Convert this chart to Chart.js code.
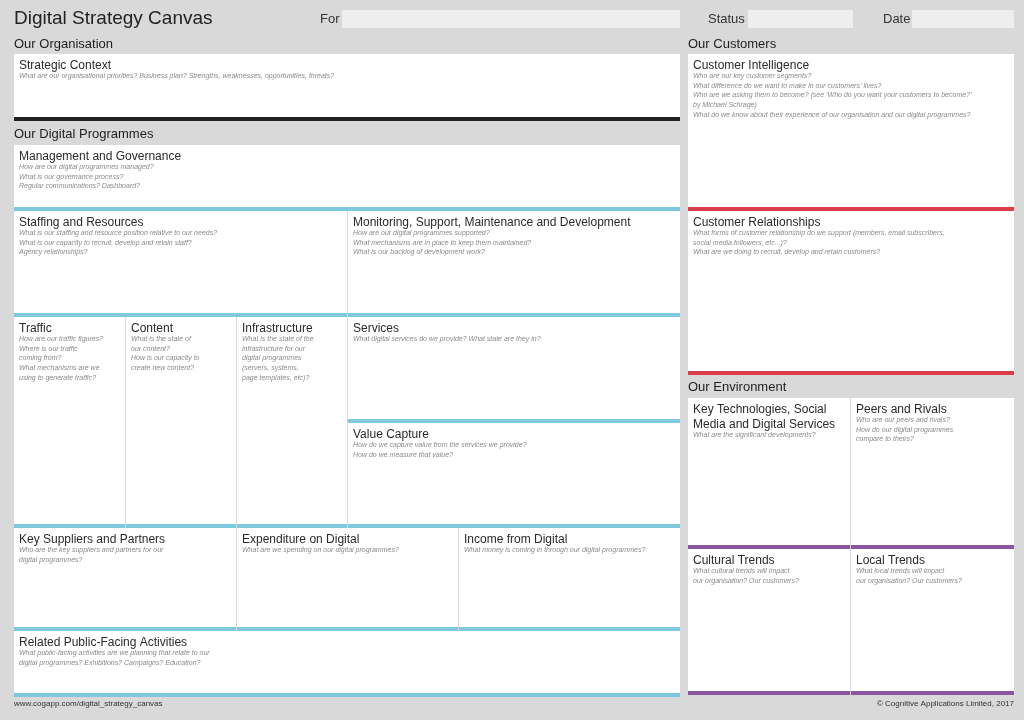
<!DOCTYPE html>
<html>
<head>
<meta charset="utf-8">
<script src="https://cdn.jsdelivr.net/npm/chart.js@4"></script>
<style>
  html, body { margin: 0; padding: 0; background: #d9d9d9; }
  #wrap { width: 1024px; height: 720px; }
</style>
</head>
<body>
<div id="wrap"><canvas id="canvasChart"></canvas></div>
<script>
// cell boxes in page units (x0, x1, y0, y1), accent bar under each
const cellTitles = ['Strategic Context', 'Management and Governance', 'Staffing and Resources',
  'Monitoring, Support, Maintenance and Development', 'Traffic', 'Content', 'Infrastructure',
  'Services', 'Value Capture', 'Key Suppliers and Partners', 'Expenditure on Digital',
  'Income from Digital', 'Related Public-Facing Activities', 'Customer Intelligence',
  'Customer Relationships', 'Key Technologies, Social\nMedia and Digital Services', 'Peers and Rivals',
  'Cultural Trends', 'Local Trends'];
const cellX0 = [14, 14, 14, 348, 14, 126, 237, 348, 348, 14, 237, 459, 14, 688, 688, 688, 851, 688, 851];
const cellX1 = [680, 680, 347, 680, 125, 236, 347, 680, 680, 236, 458, 680, 680, 1014, 1014, 850, 1014, 850, 1014];
const cellY0 = [54, 145, 211, 211, 317, 317, 317, 317, 423, 528, 528, 528, 631, 54, 211, 398, 398, 549, 549];
const cellY1 = [117, 207, 313, 313, 524, 524, 524, 419, 524, 627, 627, 627, 693, 207, 371, 545, 545, 691, 691];
const cellAccent = ['dark', 'blue', 'blue', 'blue', 'blue', 'blue', 'blue', 'blue', 'blue', 'blue', 'blue',
  'blue', 'blue', 'red', 'red', 'purple', 'purple', 'purple', 'purple'];
const cellQuestions = [
  ['What are our organisational priorities? Business plan? Strengths, weaknesses, opportunities, threats?'],
  ['How are our digital programmes managed?', 'What is our governance process?', 'Regular communications? Dashboard?'],
  ['What is our staffing and resource position relative to our needs?', 'What is our capacity to recruit, develop and retain staff?', 'Agency relationships?'],
  ['How are our digital programmes supported?', 'What mechanisms are in place to keep them maintained?', 'What is our backlog of development work?'],
  ['How are our traffic figures?', 'Where is our traffic', 'coming from?', 'What mechanisms are we', 'using to generate traffic?'],
  ['What is the state of', 'our content?', 'How is our capacity to', 'create new content?'],
  ['What is the state of the', 'infrastructure for our', 'digital programmes', '(servers, systems,', 'page templates, etc)?'],
  ['What digital services do we provide? What state are they in?'],
  ['How do we capture value from the services we provide?', 'How do we measure that value?'],
  ['Who are the key suppliers and partners for our', 'digital programmes?'],
  ['What are we spending on our digital programmes?'],
  ['What money is coming in through our digital programmes?'],
  ['What public-facing activities are we planning that relate to our', 'digital programmes? Exhibitions? Campaigns? Education?'],
  ['Who are our key customer segments?', 'What difference do we want to make in our customers\u2019 lives?',
   'Who are we asking them to become? (see \u2018Who do you want your customers to become?\u2019', 'by Michael Schrage)',
   'What do we know about their experience of our organisation and our digital programmes?'],
  ['What forms of customer relationship do we support (members, email subscribers,', 'social media followers, etc...)?', 'What are we doing to recruit, develop and retain customers?'],
  ['What are the significant developments?'],
  ['Who are our peers and rivals?', 'How do our digital programmes', 'compare to theirs?'],
  ['What cultural trends will impact', 'our organisation? Our customers?'],
  ['What local trends will impact', 'our organisation? Our customers?']
];

const sectionLabels = ['Our Organisation', 'Our Digital Programmes', 'Our Customers', 'Our Environment'];
const sectionX = [14, 14, 688, 688];
const sectionY = [44, 134, 44, 387];

const fieldLabels = ['For', 'Status', 'Date'];
const fieldLabelX = [320, 708, 883];
const fieldBoxX0 = [342, 748, 912];
const fieldBoxX1 = [680, 853, 1014];

const accentColors = { dark: '#222222', blue: '#7ec9de', red: '#dc3d4b', purple: '#8b55a0' };
const FONT = '"Liberation Sans", Arial, sans-serif';

const canvasPlugin = {
    id: 'canvasCells',
    afterDraw(chart) {
        const ctx = chart.ctx;
        const xs = chart.scales.x, ys = chart.scales.y;
        const px = v => xs.getPixelForValue(v);
        const py = v => ys.getPixelForValue(v);
        ctx.save();
        ctx.textBaseline = 'alphabetic';

        // header
        ctx.fillStyle = '#222';
        ctx.font = '19px ' + FONT;
        ctx.fillText('Digital Strategy Canvas', px(14), py(24));
        ctx.font = '13px ' + FONT;
        fieldLabels.forEach((lab, i) => {
            ctx.fillStyle = '#333';
            ctx.fillText(lab, px(fieldLabelX[i]), py(23));
            ctx.fillStyle = '#eeeeee';
            ctx.fillRect(px(fieldBoxX0[i]), py(10), px(fieldBoxX1[i]) - px(fieldBoxX0[i]), py(28) - py(10));
        });

        ctx.fillStyle = '#1e1e1e';
        ctx.font = '13px ' + FONT;
        sectionLabels.forEach((s, i) => ctx.fillText(s, px(sectionX[i]), py(sectionY[i] + 4)));

        cellTitles.forEach((title, i) => {
            const x0 = px(cellX0[i]), x1 = px(cellX1[i]), y0 = py(cellY0[i]), y1 = py(cellY1[i]);
            ctx.fillStyle = '#ffffff';
            ctx.fillRect(x0, y0, x1 - x0, y1 - y0);
            ctx.fillStyle = accentColors[cellAccent[i]];
            ctx.fillRect(x0, y1, x1 - x0, py(cellY1[i] + 4) - y1);

            ctx.fillStyle = '#2a2a2a';
            ctx.font = '12px ' + FONT;
            const tLines = title.split('\n');
            tLines.forEach((t, k) => ctx.fillText(t, x0 + 5, y0 + 15 + k * 15));
            ctx.fillStyle = '#8a8a8a';
            ctx.font = 'italic 7px ' + FONT;
            const qStart = y0 + 15 + (tLines.length - 1) * 15 + 9;
            cellQuestions[i].forEach((q, k) => ctx.fillText(q, x0 + 5, qStart + k * 9.7));
        });

        ctx.fillStyle = '#333';
        ctx.font = '8px ' + FONT;
        ctx.fillText('www.cogapp.com/digital_strategy_canvas', px(14), py(706));
        ctx.textAlign = 'right';
        ctx.fillText('\u00a9 Cognitive Applications Limited, 2017', px(1014), py(706));
        ctx.restore();
    }
};

const ctx = document.getElementById('canvasChart').getContext('2d');
new Chart(ctx, {
    type: 'scatter',
    data: { datasets: [{ data: [], pointRadius: 0 }] },
    options: {
        responsive: true,
        maintainAspectRatio: false,
        animation: false,
        layout: { padding: 0 },
        scales: {
            x: { type: 'linear', min: 0, max: 1024, display: false },
            y: { type: 'linear', min: 0, max: 720, reverse: true, display: false }
        },
        plugins: { legend: { display: false }, tooltip: { enabled: false } }
    },
    plugins: [canvasPlugin]
});
</script>
</body>
</html>
